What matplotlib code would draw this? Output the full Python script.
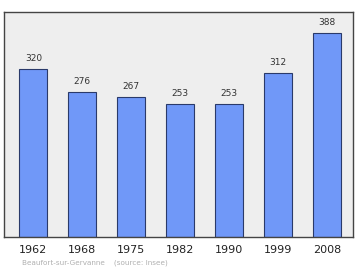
import matplotlib
matplotlib.use("Agg")
import matplotlib.pyplot as plt

years = ["1962", "1968", "1975", "1982", "1990", "1999", "2008"]
population = [320, 276, 267, 253, 253, 312, 388]

BAR_COLOR = "#7098f8"
EDGE_COLOR = "#2a3a6a"
BG_COLOR = "#eeeeee"

fig = plt.figure(figsize=(3.6, 2.7), dpi=100)
ax = fig.add_axes([0.011, 0.122, 0.969, 0.833])
ax.set_facecolor(BG_COLOR)

x = range(len(years))
ax.bar(x, population, width=0.57, color=BAR_COLOR, edgecolor=EDGE_COLOR, linewidth=0.8)

for i, v in zip(x, population):
    ax.text(i, v + 20, str(v), ha="center", va="center", fontsize=6.5, color="#333333")

ax.set_xlim(-0.6, 6.52)
ax.set_ylim(0, 428)
ax.set_xticks(list(x))
ax.set_xticklabels(years, fontsize=8, color="#222222")
ax.tick_params(axis="x", length=0, pad=6)
ax.set_yticks([])
for s in ax.spines.values():
    s.set_color("#444444")
    s.set_linewidth(1.0)

fig.text(0.06, 0.02, "Beaufort-sur-Gervanne    (source: Insee)", fontsize=5.2, color="#b0b0b0")

fig.savefig("out.png", dpi=100)
